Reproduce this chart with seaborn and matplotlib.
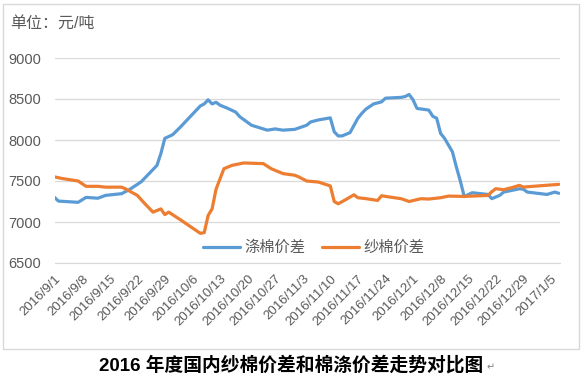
import pandas as pd
import matplotlib
matplotlib.use('Agg')
import matplotlib.pyplot as plt
import seaborn as sns
from matplotlib.patches import Rectangle

# 涤棉价差 (blue)
blue_dates = ['2016-09-01', '2016-09-02', '2016-09-07', '2016-09-09', '2016-09-12', '2016-09-14',
              '2016-09-18', '2016-09-20', '2016-09-23', '2016-09-27', '2016-09-28', '2016-09-29',
              '2016-10-01', '2016-10-03', '2016-10-08', '2016-10-09', '2016-10-10', '2016-10-11',
              '2016-10-12', '2016-10-13', '2016-10-15', '2016-10-17', '2016-10-18', '2016-10-21',
              '2016-10-23', '2016-10-25', '2016-10-27', '2016-10-29', '2016-11-01', '2016-11-04',
              '2016-11-05', '2016-11-07', '2016-11-10', '2016-11-11', '2016-11-12', '2016-11-13',
              '2016-11-15', '2016-11-17', '2016-11-18', '2016-11-19', '2016-11-21', '2016-11-23',
              '2016-11-24', '2016-11-28', '2016-11-29', '2016-11-30', '2016-12-01', '2016-12-02',
              '2016-12-05', '2016-12-06', '2016-12-07', '2016-12-08', '2016-12-09', '2016-12-11',
              '2016-12-12', '2016-12-13', '2016-12-14', '2016-12-16', '2016-12-20', '2016-12-21',
              '2016-12-23', '2016-12-24', '2016-12-28', '2016-12-29', '2016-12-30', '2017-01-04',
              '2017-01-06', '2017-01-07']
blue_values = [7300, 7255, 7240, 7300, 7290, 7325,
               7345, 7395, 7490, 7690, 7835, 8020,
               8065, 8160, 8415, 8440, 8490, 8440,
               8460, 8425, 8385, 8340, 8285, 8180,
               8150, 8120, 8135, 8120, 8130, 8180,
               8220, 8245, 8270, 8100, 8050, 8050,
               8090, 8265, 8325, 8375, 8440, 8465,
               8510, 8520, 8530, 8555, 8490, 8385,
               8365, 8290, 8265, 8080, 8020, 7855,
               7670, 7500, 7310, 7357, 7336, 7285,
               7325, 7365, 7405, 7400, 7365, 7336,
               7365, 7350]

# 纱棉价差 (orange)
orange_dates = ['2016-09-01', '2016-09-03', '2016-09-07', '2016-09-09', '2016-09-12', '2016-09-14',
                '2016-09-18', '2016-09-19', '2016-09-22', '2016-09-24', '2016-09-26', '2016-09-28',
                '2016-09-29', '2016-09-30', '2016-10-03', '2016-10-08', '2016-10-09', '2016-10-10',
                '2016-10-11', '2016-10-12', '2016-10-14', '2016-10-16', '2016-10-19', '2016-10-24',
                '2016-10-26', '2016-10-29', '2016-11-01', '2016-11-02', '2016-11-04', '2016-11-07',
                '2016-11-10', '2016-11-11', '2016-11-12', '2016-11-14', '2016-11-16', '2016-11-17',
                '2016-11-19', '2016-11-22', '2016-11-23', '2016-11-25', '2016-11-28', '2016-11-30',
                '2016-12-03', '2016-12-05', '2016-12-08', '2016-12-10', '2016-12-14', '2016-12-20',
                '2016-12-21', '2016-12-22', '2016-12-24', '2016-12-26', '2016-12-28', '2016-12-29',
                '2017-01-07']
orange_values = [7550, 7530, 7500, 7435, 7435, 7425,
                 7425, 7405, 7325, 7220, 7120, 7160,
                 7090, 7120, 7026, 6862, 6870, 7080,
                 7160, 7400, 7650, 7690, 7720, 7712,
                 7650, 7590, 7570, 7550, 7500, 7487,
                 7440, 7250, 7222, 7275, 7332, 7296,
                 7285, 7263, 7320, 7305, 7284, 7250,
                 7284, 7280, 7296, 7316, 7312, 7324,
                 7370, 7406, 7394, 7418, 7447, 7426,
                 7459]

series_names = ['涤棉价差', '纱棉价差']
series_colors = ['#5B9BD5', '#ED7D31']

tick_labels = ['2016/9/1', '2016/9/8', '2016/9/15', '2016/9/22', '2016/9/29', '2016/10/6',
               '2016/10/13', '2016/10/20', '2016/10/27', '2016/11/3', '2016/11/10', '2016/11/17',
               '2016/11/24', '2016/12/1', '2016/12/8', '2016/12/15', '2016/12/22', '2016/12/29',
               '2017/1/5']
y_ticks = [6500, 7000, 7500, 8000, 8500, 9000]

sns.set_style('white')
plt.rcParams['font.family'] = ['Liberation Sans', 'Noto Sans CJK SC', 'DejaVu Sans']

df = pd.concat([
    pd.DataFrame({'date': pd.to_datetime(blue_dates), 'value': blue_values, 'series': series_names[0]}),
    pd.DataFrame({'date': pd.to_datetime(orange_dates), 'value': orange_values, 'series': series_names[1]}),
])

fig = plt.figure(figsize=(5.83, 3.75), dpi=100)
W, H = 583, 375
ax = fig.add_axes([54.5 / W, 1 - 263 / H, (560 - 54.5) / W, (263 - 58) / H])

sns.lineplot(data=df, x='date', y='value', hue='series', hue_order=series_names,
             palette=series_colors, linewidth=2.3, ax=ax, legend=False)

start = pd.Timestamp('2016-09-01')
ax.set_xlim(start, start + pd.Timedelta(days=128.3))
ax.set_ylim(6500, 9000)
ax.set_yticks(y_ticks)
ax.set_yticklabels([str(v) for v in y_ticks])
ax.yaxis.grid(True, color='#d9d9d9', linewidth=0.9)
ax.set_axisbelow(True)

ax.set_xticks(pd.to_datetime(tick_labels, format='%Y/%m/%d'))
ax.set_xticklabels(tick_labels, rotation=45, ha='right', rotation_mode='anchor')
ax.tick_params(axis='x', length=4, color='#d9d9d9', labelsize=9.5, labelcolor='#595959', pad=3)
ax.tick_params(axis='y', length=0, labelsize=10.5, labelcolor='#595959', pad=9.5)
ax.set_xlabel('')
ax.set_ylabel('')
sns.despine(ax=ax, left=True)
ax.spines['bottom'].set_color('#d9d9d9')

handles = [plt.Line2D([], [], color=c, linewidth=2.3) for c in series_colors]
fig.legend(handles, series_names, loc='center', bbox_to_anchor=(314 / W, 1 - 248 / H),
           ncol=2, frameon=False, fontsize=11, labelcolor='#595959',
           handlelength=2.4, handletextpad=0.3, columnspacing=1.1)

fig.text(10 / W, 1 - 23 / H, '单位：元/吨', fontsize=11.5, color='#595959', va='center', ha='left')

fig.patches.append(Rectangle((3 / W, 1 - 349 / H), 576 / W, 345 / H, transform=fig.transFigure,
                             fill=False, edgecolor='#d9d9d9', linewidth=1))

fig.text(291 / W, 1 - 365 / H, '2016 年度国内纱棉价差和棉涤价差走势对比图', fontsize=13.5,
         fontweight='bold', color='black', ha='center', va='center')
fig.text(487 / W, 1 - 367 / H, '↵', fontsize=7, color='#808080', ha='left', va='center',
         family=['DejaVu Sans'])

plt.savefig('out.png', dpi=100)
